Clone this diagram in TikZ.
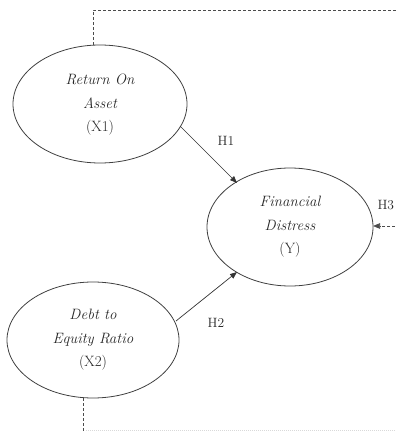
\documentclass[tikz,border=0pt]{standalone}
\usetikzlibrary{arrows.meta}
\begin{document}
\begin{tikzpicture}[x=1pt,y=-1pt,
  lbl/.style={font=\fontsize{15}{23.5}\selectfont, align=center, text=black!85},
  hyp/.style={font=\fontsize{13.5}{15}\selectfont, text=black!85},
  ell/.style={draw=black!75, line width=0.8pt},
  arr/.style={draw=black!80, line width=0.7pt, -{Triangle[length=7pt,width=5.5pt]}},
  dsh/.style={draw=black!70, line width=0.7pt, dash pattern=on 3pt off 2pt}]
\clip (0,0) rectangle (396,433);
\useasboundingbox (0,0) rectangle (396,433);
\draw[ell] (100,104) ellipse [x radius=87, y radius=59];
\draw[ell] (290,227) ellipse [x radius=83, y radius=59];
\draw[ell] (93,340) ellipse [x radius=86, y radius=58];
\node[lbl] (x1) at (100,105) {\itshape Return On\\ \itshape Asset\\ (X1)};
\node[lbl] (y) at (290,227) {\itshape Financial\\ \itshape Distress\\ (Y)};
\node[lbl] (x2) at (93,340) {\itshape Debt to\\ \itshape Equity Ratio\\ (X2)};
\coordinate (x1top) at (93,45);
\coordinate (tl) at (93,10);
\coordinate (tr) at (400,10);
\draw[dsh] (x1top) -- (tl) -- (tr);
\coordinate (x2bot) at (83,398);
\coordinate (bl) at (83,440);
\draw[dsh] (x2bot) -- (bl);
\coordinate (bb1) at (86,430);
\coordinate (bb2) at (396,430);
\draw[draw=black!15, line width=0.6pt, dash pattern=on 1pt off 1pt] (bb1) -- (bb2);
\coordinate (a1s) at (180,126);
\coordinate (a1e) at (237,183);
\draw[arr] (a1s) -- (a1e);
\coordinate (a2s) at (176,321);
\coordinate (a2e) at (237,272);
\draw[arr] (a2s) -- (a2e);
\coordinate (a3s) at (400,226);
\coordinate (a3e) at (373,226);
\draw[dsh, -{Triangle[length=7pt,width=5.5pt]}] (a3s) -- (a3e);
\node[hyp] (h1) at (226,141) {H1};
\node[hyp] (h2) at (216,323) {H2};
\node[hyp, anchor=west] (h3) at (374,205) {H3};
\end{tikzpicture}
\end{document}
